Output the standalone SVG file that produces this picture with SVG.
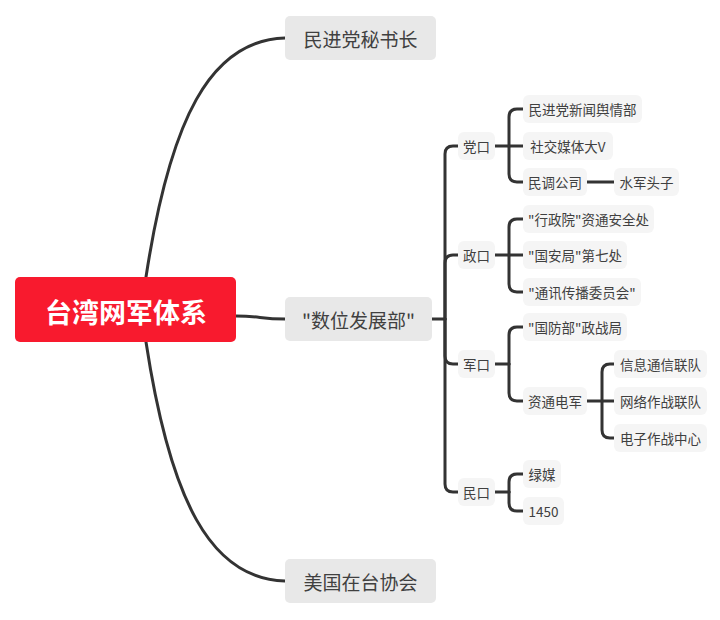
<svg xmlns="http://www.w3.org/2000/svg" width="720" height="620" viewBox="0 0 720 620">
<style>
text{font-family:"Noto Sans CJK SC","Noto Sans",sans-serif;text-anchor:middle;dominant-baseline:central}
.l1 rect{fill:#e8e8e8}
.l1 text{font-size:19px;fill:#404040}
.n rect{fill:#f5f5f5}
.n text{font-size:13.5px;fill:#404040}
.c path{fill:none;stroke:#333;stroke-width:3;stroke-linecap:round}
</style>
<rect width="720" height="620" fill="#fff"/>
<g class="c" id="connectors">
<path d="M146,277 C170,120 210,40 285,38"/>
<path d="M146,342 C170,499 210,579 285,581"/>
<path d="M236,316 C260,316 260,319 285,319"/>
<path d="M432,319 H445"/>
<path d="M445,319 V154 Q445,146 453,146 H458"/>
<path d="M445,319 V263 Q445,255 453,255 H458"/>
<path d="M445,319 V356 Q445,364 453,364 H458"/>
<path d="M445,319 V484 Q445,492 453,492 H458"/>
<path d="M495,146 H509"/>
<path d="M509,146 V117 Q509,109 517,109 H523"/>
<path d="M509,146 H523"/>
<path d="M509,146 V174 Q509,182 517,182 H523"/>
<path d="M587,182 H614"/>
<path d="M495,255 H509"/>
<path d="M509,255 V227 Q509,219 517,219 H523"/>
<path d="M509,255 H523"/>
<path d="M509,255 V284 Q509,292 517,292 H523"/>
<path d="M495,364 H509"/>
<path d="M509,364 V335 Q509,327 517,327 H523"/>
<path d="M509,364 V393 Q509,401 517,401 H523"/>
<path d="M587,401 H602"/>
<path d="M602,401 V372 Q602,364 610,364 H614"/>
<path d="M602,401 H614"/>
<path d="M602,401 V430 Q602,438 610,438 H614"/>
<path d="M495,492 H509"/>
<path d="M509,492 V482 Q509,474 517,474 H523"/>
<path d="M509,492 V503 Q509,511 517,511 H523"/>
</g>
<g id="root"><rect x="15" y="277" width="221" height="65" rx="5" fill="#f81a2e"/><text x="126" y="311" font-size="27" font-weight="bold" fill="#fff">台湾网军体系</text></g>
<g id="n-msz" class="l1"><rect x="285" y="16" width="151" height="44" rx="5"/><text x="360.5" y="38">民进党秘书长</text></g>
<g id="n-szfzb" class="l1"><rect x="285" y="297" width="147" height="44" rx="5"/><text x="358.5" y="319">"数位发展部"</text></g>
<g id="n-ait" class="l1"><rect x="285" y="559" width="151" height="44" rx="5"/><text x="360.5" y="581">美国在台协会</text></g>
<g id="n-dk" class="n"><rect x="458" y="132" width="37" height="28" rx="6"/><text x="476.5" y="146">党口</text></g>
<g id="n-zk" class="n"><rect x="458" y="241" width="37" height="28" rx="6"/><text x="476.5" y="255">政口</text></g>
<g id="n-jk" class="n"><rect x="458" y="350" width="37" height="28" rx="6"/><text x="476.5" y="364">军口</text></g>
<g id="n-mk" class="n"><rect x="458" y="478" width="37" height="28" rx="6"/><text x="476.5" y="492">民口</text></g>
<g id="n-xwyq" class="n"><rect x="523" y="95" width="119" height="28" rx="6"/><text x="582.5" y="109">民进党新闻舆情部</text></g>
<g id="n-sjmt" class="n"><rect x="523" y="132" width="90" height="28" rx="6"/><text x="568" y="146">社交媒体大V</text></g>
<g id="n-mdgs" class="n"><rect x="523" y="168" width="64" height="28" rx="6"/><text x="555" y="182">民调公司</text></g>
<g id="n-sjtz" class="n"><rect x="614" y="168" width="65" height="28" rx="6"/><text x="646.5" y="182">水军头子</text></g>
<g id="n-zty" class="n"><rect x="523" y="205" width="131" height="28" rx="6"/><text x="588.5" y="219">"行政院"资通安全处</text></g>
<g id="n-gaj" class="n"><rect x="523" y="241" width="104" height="28" rx="6"/><text x="575" y="255">"国安局"第七处</text></g>
<g id="n-tcw" class="n"><rect x="523" y="278" width="118" height="28" rx="6"/><text x="582" y="292">"通讯传播委员会"</text></g>
<g id="n-gfb" class="n"><rect x="523" y="313" width="104" height="28" rx="6"/><text x="575" y="327">"国防部"政战局</text></g>
<g id="n-ztdj" class="n"><rect x="523" y="387" width="64" height="28" rx="6"/><text x="555" y="401">资通电军</text></g>
<g id="n-xxtx" class="n"><rect x="614" y="350" width="93" height="28" rx="6"/><text x="660.5" y="364">信息通信联队</text></g>
<g id="n-wlzz" class="n"><rect x="614" y="387" width="93" height="28" rx="6"/><text x="660.5" y="401">网络作战联队</text></g>
<g id="n-dzzz" class="n"><rect x="614" y="424" width="93" height="28" rx="6"/><text x="660.5" y="438">电子作战中心</text></g>
<g id="n-lm" class="n"><rect x="523" y="460" width="38" height="28" rx="6"/><text x="542" y="474">绿媒</text></g>
<g id="n-1450" class="n"><rect x="523" y="497" width="41" height="28" rx="6"/><text x="543.5" y="511">1450</text></g>
</svg>
